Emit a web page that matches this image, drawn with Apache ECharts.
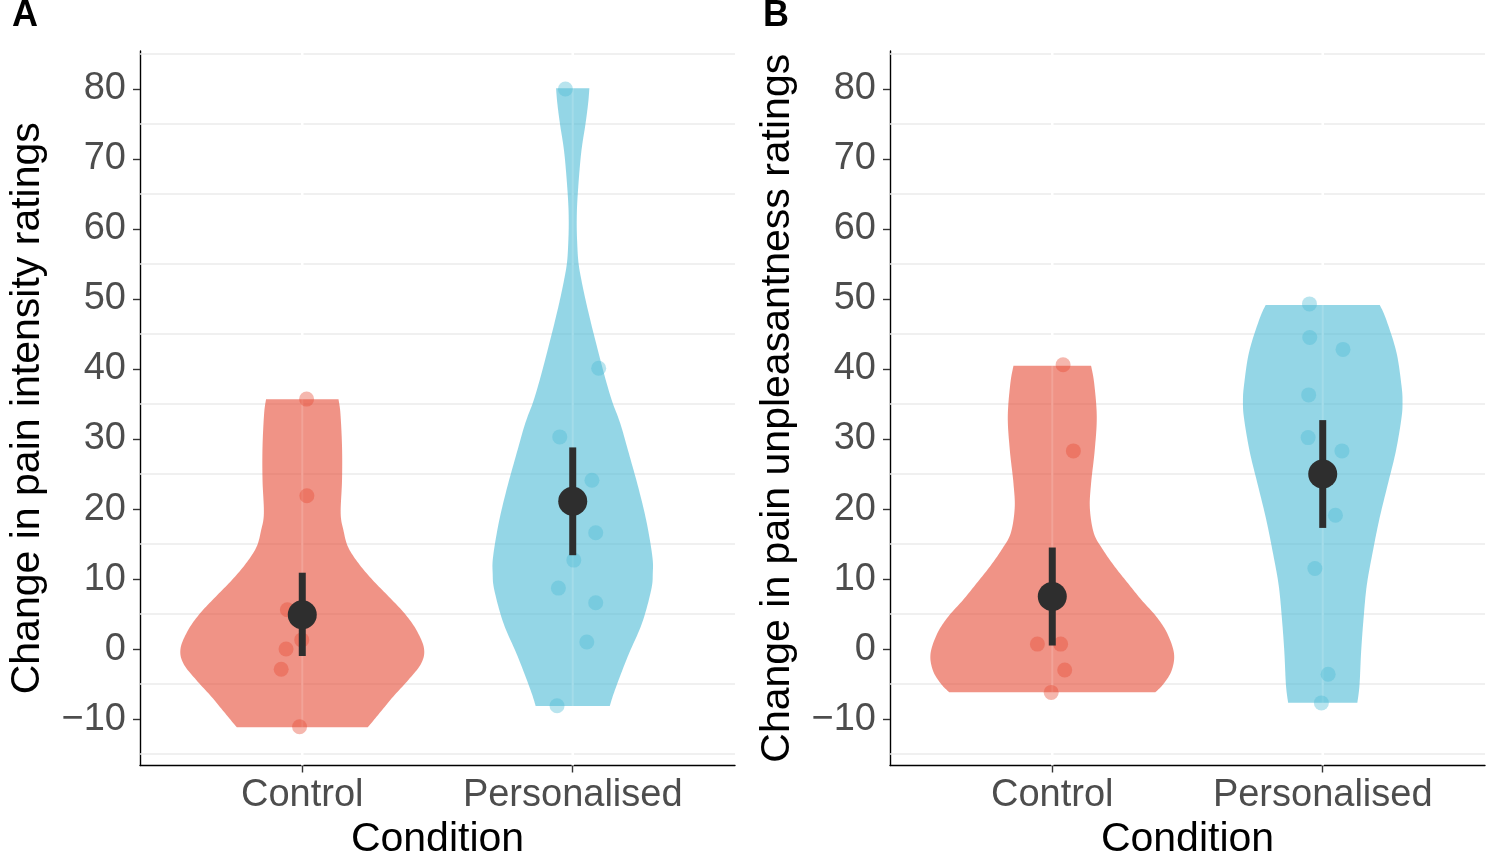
<!DOCTYPE html>
<html><head><meta charset="utf-8">
<script src="https://cdn.jsdelivr.net/npm/echarts@6/dist/echarts.min.js"></script>
<style>html,body{margin:0;padding:0;background:#fff}#c{width:1500px;height:853px}</style>
</head><body><div id="c"></div>
<script>
// ---------------- data ----------------
const categories = ['Control', 'Personalised'];
const yTicks = [-10, 0, 10, 20, 30, 40, 50, 60, 70, 80];
const gridBreaks = [-15, -5, 5, 15, 25, 35, 45, 55, 65, 75, 85];
const panelTitles = ['Change in pain intensity ratings', 'Change in pain unpleasantness ratings'];
const panelLetters = ['A', 'B'];
const xTitle = 'Condition';

// individual participants (value, horizontal jitter in category units)
const aControlValues = [35.7, 21.9, 5.6, 1.3, 0.0, -2.9, -11.1];
const aControlJitter = [0.016, 0.017, -0.055, -0.002, -0.06, -0.078, -0.01];
const aPersonalValues = [80.0, 40.1, 30.3, 24.1, 16.6, 12.7, 8.7, 6.6, 1.0, -8.1];
const aPersonalJitter = [-0.027, 0.096, -0.048, 0.071, 0.085, 0.004, -0.053, 0.085, 0.052, -0.058];
const bControlValues = [40.6, 28.3, 0.7, 0.7, -3.0, -6.2];
const bControlJitter = [0.04, 0.078, -0.055, 0.031, 0.046, -0.004];
const bPersonalValues = [49.3, 44.5, 42.8, 36.3, 30.2, 28.3, 19.1, 11.5, -3.6, -7.7];
const bPersonalJitter = [-0.049, -0.048, 0.075, -0.052, -0.054, 0.071, 0.047, -0.029, 0.02, -0.005];

// means with error bars (Control, Personalised)
const aMeans = [4.9, 21.1];
const aLow = [-1.0, 13.4];
const aHigh = [10.9, 28.8];
const bMeans = [7.5, 25.0];
const bLow = [0.5, 17.3];
const bHigh = [14.5, 32.7];

// violin outlines: levels (y values) and half-widths (category units)
const vAControlLevels = [35.67, 33.67, 28.9, 24.14, 19.38, 17.0, 14.6, 12.24, 9.86, 7.48, 5.1, 2.71, 0.1, -2.05, -4.43, -6.81, -9.19, -11.19];
const vAControlHalf = [0.134, 0.141, 0.147, 0.147, 0.142, 0.152, 0.169, 0.208, 0.26, 0.32, 0.378, 0.422, 0.45, 0.44, 0.392, 0.336, 0.285, 0.242];
const vAPersonalLevels = [80.1, 77.96, 74.96, 70.8, 64.96, 61.3, 57.96, 54.96, 51.76, 48.43, 44.96, 39.86, 35.57, 32.24, 27.47, 22.71, 17.95, 13.19, 10.81, 8.43, 3.67, -1.1, -5.86, -8.14];
const vAPersonalHalf = [0.0616, 0.057, 0.047, 0.031, 0.0185, 0.0148, 0.0166, 0.022, 0.037, 0.056, 0.078, 0.112, 0.144, 0.1756, 0.211, 0.245, 0.274, 0.2945, 0.296, 0.29, 0.256, 0.203, 0.156, 0.137];
const vBControlLevels = [40.48, 37.95, 33.19, 28.43, 23.67, 20.1, 16.52, 14.14, 11.76, 9.38, 7.0, 4.62, 2.24, -0.62, -3.0, -4.9, -6.19];
const vBControlHalf = [0.1435, 0.155, 0.1645, 0.157, 0.1435, 0.139, 0.154, 0.188, 0.231, 0.28, 0.33, 0.385, 0.425, 0.45, 0.442, 0.413, 0.381];
const vBPersonalLevels = [49.14, 47.24, 42.48, 37.71, 35.33, 32.95, 28.19, 23.43, 18.67, 13.9, 9.14, 4.38, -0.38, -5.14, -7.67];
const vBPersonalHalf = [0.211, 0.233, 0.272, 0.291, 0.295, 0.291, 0.27, 0.24, 0.21, 0.185, 0.163, 0.151, 0.142, 0.136, 0.128];

// ---------------- styles ----------------
const FONT = 'Liberation Sans, Arial, Helvetica, sans-serif';
const violinFill = ['rgba(230,75,53,0.6)', 'rgba(77,187,213,0.6)'];
const pointFill = ['rgba(230,75,53,0.4)', 'rgba(77,187,213,0.4)'];
const Y_MIN = -16.64, Y_MAX = 85.43;

const panels = [
  {
    violins: [{levels: vAControlLevels, half: vAControlHalf}, {levels: vAPersonalLevels, half: vAPersonalHalf}],
    points: [[aControlValues, aControlJitter], [aPersonalValues, aPersonalJitter]],
    means: aMeans, low: aLow, high: aHigh
  },
  {
    violins: [{levels: vBControlLevels, half: vBControlHalf}, {levels: vBPersonalLevels, half: vBPersonalHalf}],
    points: [[bControlValues, bControlJitter], [bPersonalValues, bPersonalJitter]],
    means: bMeans, low: bLow, high: bHigh
  }
];

function spline(pts, steps) {
  const out = [];
  const n = pts.length;
  for (let i = 0; i < n - 1; i++) {
    const p0 = pts[Math.max(i - 1, 0)], p1 = pts[i], p2 = pts[i + 1], p3 = pts[Math.min(i + 2, n - 1)];
    for (let s = 0; s < steps; s++) {
      const t = s / steps, t2 = t * t, t3 = t2 * t;
      const f = (a, b, c, d) => 0.5 * ((2 * b) + (-a + c) * t + (2 * a - 5 * b + 4 * c - d) * t2 + (-a + 3 * b - 3 * c + d) * t3);
      out.push([f(p0[0], p1[0], p2[0], p3[0]), f(p0[1], p1[1], p2[1], p3[1])]);
    }
  }
  out.push(pts[n - 1]);
  return out;
}

const gridLefts = [140, 890];
const grid = gridLefts.map(l => ({left: l, top: 51, width: 595, height: 714.5, outerBoundsMode: 'none', containLabel: false}));

const xAxis = [], yAxis = [], series = [];
panels.forEach((p, gi) => {
  xAxis.push({
    gridIndex: gi, type: 'value', min: 0.4, max: 2.6,
    axisLine: {show: true, onZero: false, lineStyle: {color: '#000', width: 1.4}},
    axisTick: {show: true, customValues: [1, 2], length: 7, lineStyle: {color: '#333', width: 1.4}},
    axisLabel: {customValues: [1, 2], formatter: v => categories[Math.round(v) - 1], fontSize: 38, color: '#4D4D4D', fontFamily: FONT, margin: 11},
    splitLine: {show: false},
    name: xTitle, nameLocation: 'middle', nameGap: 50,
    nameTextStyle: {fontSize: 41, color: '#000', fontFamily: FONT}
  });
  yAxis.push({
    gridIndex: gi, type: 'value', min: Y_MIN, max: Y_MAX,
    axisLine: {show: true, onZero: false, lineStyle: {color: '#000', width: 1.4}},
    axisTick: {show: true, customValues: yTicks, length: 7, lineStyle: {color: '#333', width: 1.4}},
    axisLabel: {customValues: yTicks, formatter: v => (v < 0 ? '\u2212' + Math.abs(v) : String(v)), fontSize: 38, color: '#4D4D4D', fontFamily: FONT, margin: 14},
    splitLine: {show: false},
    name: panelTitles[gi], nameLocation: 'middle', nameGap: 92,
    nameTextStyle: {fontSize: 41, color: '#000', fontFamily: FONT}
  });

  // horizontal grid lines
  series.push({
    type: 'custom', xAxisIndex: gi, yAxisIndex: gi, z: 1, silent: true,
    data: gridBreaks.map(v => [1.5, v]), encode: {x: 0, y: 1},
    renderItem: (params, api) => {
      const cs = params.coordSys;
      const y = api.coord([1.5, api.value(1)])[1];
      return {type: 'line', shape: {x1: cs.x, y1: y, x2: cs.x + cs.width, y2: y}, style: {stroke: '#EBEBEB', lineWidth: 1.6}};
    }
  });
  // vertical white guide at categories (under violins)
  series.push({
    type: 'custom', xAxisIndex: gi, yAxisIndex: gi, z: 1.5, silent: true,
    data: [[1, 0], [2, 0]], encode: {x: 0, y: 1},
    renderItem: (params, api) => {
      const cs = params.coordSys;
      const x = api.coord([api.value(0), 0])[0];
      return {type: 'line', shape: {x1: x, y1: cs.y, x2: x, y2: cs.y + cs.height}, style: {stroke: '#FFFFFF', lineWidth: 2.5}};
    }
  });
  // violins
  series.push({
    type: 'custom', xAxisIndex: gi, yAxisIndex: gi, z: 2, silent: true,
    data: [[1, 0], [2, 0]], encode: {x: 0, y: 1},
    renderItem: (params, api) => {
      const idx = params.dataIndex;
      const pos = idx + 1;
      const v = p.violins[idx];
      const right = [], left = [];
      for (let i = 0; i < v.levels.length; i++) {
        right.push(api.coord([pos + v.half[i], v.levels[i]]));
        left.push(api.coord([pos - v.half[i], v.levels[i]]));
      }
      const pts = spline(right, 10).concat(spline(left, 10).reverse());
      return {type: 'polygon', shape: {points: pts}, style: {fill: violinFill[idx]}};
    }
  });
  // faint white line over violins
  series.push({
    type: 'custom', xAxisIndex: gi, yAxisIndex: gi, z: 3, silent: true,
    data: [[1, 0], [2, 0]], encode: {x: 0, y: 1},
    renderItem: (params, api) => {
      const cs = params.coordSys;
      const x = api.coord([api.value(0), 0])[0];
      return {type: 'line', shape: {x1: x, y1: cs.y, x2: x, y2: cs.y + cs.height}, style: {stroke: 'rgba(255,255,255,0.15)', lineWidth: 2}};
    }
  });
  // participant points
  p.points.forEach((pt, ci) => {
    series.push({
      type: 'scatter', xAxisIndex: gi, yAxisIndex: gi, z: 4, silent: true,
      symbol: 'circle', symbolSize: 15,
      itemStyle: {color: pointFill[ci], borderWidth: 0, opacity: 1},
      data: pt[0].map((val, i) => [ci + 1 + pt[1][i], val])
    });
  });
  // error bars
  series.push({
    type: 'custom', xAxisIndex: gi, yAxisIndex: gi, z: 5, silent: true,
    data: [[1, p.low[0], p.high[0]], [2, p.low[1], p.high[1]]], encode: {x: 0, y: [1, 2]},
    renderItem: (params, api) => {
      const a = api.coord([api.value(0), api.value(1)]);
      const b = api.coord([api.value(0), api.value(2)]);
      return {type: 'line', shape: {x1: a[0], y1: a[1], x2: b[0], y2: b[1]}, style: {stroke: '#2E2E2E', lineWidth: 7, lineCap: 'butt'}};
    }
  });
  // means
  series.push({
    type: 'scatter', xAxisIndex: gi, yAxisIndex: gi, z: 6, silent: true,
    symbol: 'circle', symbolSize: 29,
    itemStyle: {color: '#2E2E2E', opacity: 1},
    data: [[1, p.means[0]], [2, p.means[1]]]
  });
});

const chart = echarts.init(document.getElementById('c'), null, {renderer: 'canvas'});
chart.setOption({
  animation: false,
  backgroundColor: '#ffffff',
  grid: grid,
  xAxis: xAxis,
  yAxis: yAxis,
  series: series,
  graphic: [
    {type: 'text', left: 12, top: -2, style: {text: panelLetters[0], fontSize: 36, fontWeight: 'bold', fontFamily: FONT, fill: '#000'}},
    {type: 'text', left: 763, top: -2, style: {text: panelLetters[1], fontSize: 36, fontWeight: 'bold', fontFamily: FONT, fill: '#000'}}
  ]
});
</script></body></html>
